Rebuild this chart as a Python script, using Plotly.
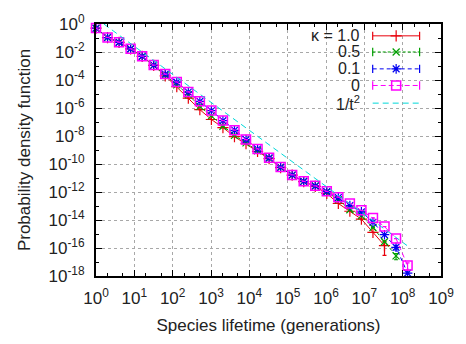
import plotly.graph_objects as go

# ---------------- data ----------------
# bin centres: t = 2^k, k = 0..27
lifetime = [2 ** k for k in range(28)]

pdf_k0 = [0.51, 0.11, 0.050, 0.017, 5.0e-3, 1.17e-3, 2.63e-4, 7.2e-5, 1.41e-5, 3.0e-6,
          6.5e-7, 1.26e-7, 2.6e-8, 5.6e-9, 1.2e-9, 2.8e-10, 6.0e-11, 1.66e-11, 5.8e-12,
          2.75e-12, 1.12e-12, 4.3e-13, 1.51e-13, 4.9e-14, 1.41e-14, 3.4e-15, 4.7e-16, 5.6e-18]
err_k0 = [0] * 27 + [3.0e-18]

pdf_k01 = [0.50, 0.108, 0.049, 0.0168, 4.9e-3, 1.15e-3, 2.6e-4, 7.0e-5, 1.38e-5, 2.95e-6,
           6.4e-7, 1.24e-7, 2.55e-8, 5.5e-9, 1.18e-9, 2.75e-10, 5.9e-11, 1.63e-11, 5.7e-12,
           2.7e-12, 1.08e-12, 4.0e-13, 1.07e-13, 3.8e-14, 6.9e-15, 8.9e-16, 1.12e-16, 1.6e-18]
err_k01 = [0] * 26 + [4.0e-17, 0]

pdf_k05 = [0.50, 0.108, 0.049, 0.0168, 4.9e-3, 1.12e-3, 2.24e-4, 4.5e-5, 8.9e-6, 1.29e-6,
           2.75e-7, 5.0e-8, 1.12e-8, 3.2e-9, 8.9e-10, 2.5e-10, 5.6e-11, 1.6e-11, 5.7e-12,
           2.7e-12, 1.0e-12, 2.8e-13, 5.4e-14, 1.95e-14, 2.9e-15, 2.8e-16, 2.75e-17]
err_k05 = [0] * 26 + [1.3e-17]

pdf_k10 = [0.50, 0.108, 0.049, 0.0166, 4.8e-3, 1.10e-3, 2.0e-4, 3.3e-5, 5.0e-6, 7.6e-7,
           1.51e-7, 4.0e-8, 8.9e-9, 2.8e-9, 7.9e-10, 2.4e-10, 5.5e-11, 1.58e-11, 5.6e-12,
           2.5e-12, 7.9e-13, 1.51e-13, 4.2e-14, 1.15e-14, 1.32e-15, 1.5e-16]
err_k10 = [0] * 25 + [1.2e-16]

# reference power law 1/t^2 (two end points)
ref_t = [1.6, 1.3e8]
ref_p = [1.0, 1.5e-16]

x_tickvals = [10 ** i for i in range(10)]
x_ticktext = [f"10<sup>{i}</sup>" for i in range(10)]
x_minor = [m * 10 ** i for i in range(9) for m in (2, 5)]
y_tickvals = [10.0 ** (-i) for i in range(0, 19, 2)]
y_ticktext = [f"10<sup>{'-' if i else ''}{i}</sup>" for i in range(0, 19, 2)]
y_minor = [10.0 ** (-i) for i in range(1, 18, 2)]

legend_labels = ["κ = 1.0", "0.5", "0.1", "0", "1/t<sup>2</sup>"]

# ---------------- style ----------------
FONT = "Liberation Sans, Arial, Helvetica, sans-serif"
FS = 17
TXT = "#222"
series = [
    dict(y=pdf_k10, e=err_k10, color="#e8000b", dash="solid", sym="cross-thin-open", size=8),
    dict(y=pdf_k05, e=err_k05, color="#00a000", dash="3px,2px", sym="x-thin-open", size=7),
    dict(y=pdf_k01, e=err_k01, color="#0000f0", dash="4px,3px", sym="asterisk-open", size=8),
    dict(y=pdf_k0, e=err_k0, color="#ff00ff", dash="5px,3px", sym="square-open", size=9),
]
CYAN = "#00d8d8"


def mline(s):
    return dict(color=s["color"], width=1.5 if s["sym"] == "square-open" else 1.2)


fig = go.Figure()
for s in series:
    n = len(s["y"])
    fig.add_trace(go.Scatter(
        x=lifetime[:n], y=s["y"], mode="lines+markers",
        line=dict(color=s["color"], width=1, dash=s["dash"]),
        marker=dict(symbol=s["sym"], size=s["size"], color=s["color"], line=mline(s)),
        error_y=dict(type="data", array=s["e"], visible=True, color=s["color"],
                     thickness=1.2, width=2),
        cliponaxis=False, showlegend=False))

fig.add_trace(go.Scatter(x=ref_t, y=ref_p, mode="lines",
                         line=dict(color=CYAN, width=1, dash="6px,4px"),
                         showlegend=False))

# ---------------- hand-made key (symbol to the right of the text) ----------------
key_y = [0.953, 0.889, 0.822, 0.756, 0.686]
kx0, kx1, kxm = 0.802, 0.938, 0.870
for i, s in enumerate(series):
    fig.add_trace(go.Scatter(
        x=[kx0, kx1], y=[key_y[i], key_y[i]], xaxis="x2", yaxis="y2", mode="lines+markers",
        line=dict(color=s["color"], width=1, dash=s["dash"]),
        marker=dict(symbol="line-ns-open", size=6, line=dict(color=s["color"], width=1.2)),
        showlegend=False, hoverinfo="skip"))
    fig.add_trace(go.Scatter(
        x=[kxm], y=[key_y[i]], xaxis="x2", yaxis="y2", mode="markers",
        marker=dict(symbol=s["sym"], size=s["size"], color=s["color"], line=mline(s)),
        showlegend=False, hoverinfo="skip"))
fig.add_trace(go.Scatter(
    x=[kx0, kx1], y=[key_y[4], key_y[4]], xaxis="x2", yaxis="y2", mode="lines",
    line=dict(color=CYAN, width=1, dash="6px,4px"), showlegend=False, hoverinfo="skip"))

for i, lab in enumerate(legend_labels):
    fig.add_annotation(x=0.772, y=key_y[i], xref="paper", yref="paper", text=lab,
                       showarrow=False, xanchor="right", yanchor="middle",
                       font=dict(family=FONT, size=16, color=TXT))

axis_common = dict(showline=True, linewidth=2, linecolor="black", mirror="ticks",
                   ticks="inside", ticklen=6, tickwidth=1, tickcolor="black",
                   showgrid=True, gridcolor="#a8a8a8", griddash="dot", gridwidth=1,
                   zeroline=False, tickfont=dict(family=FONT, size=FS, color=TXT))

fig.update_layout(
    width=466, height=344,
    margin=dict(l=96, r=17, t=15, b=61),
    paper_bgcolor="white", plot_bgcolor="white",
    font=dict(family=FONT, size=FS, color=TXT),
    xaxis=dict(type="log", range=[0, 9], tickmode="array", tickvals=x_tickvals,
               ticktext=x_ticktext,
               minor=dict(tickmode="array", tickvals=x_minor, ticklen=3, ticks="inside",
                          tickcolor="black", showgrid=False),
               title=dict(text="Species lifetime (generations)",
                          font=dict(family=FONT, size=FS, color=TXT), standoff=12),
               ticklabelstandoff=6, **axis_common),
    yaxis=dict(type="log", range=[-18, 0], tickmode="array", tickvals=y_tickvals,
               ticktext=y_ticktext,
               minor=dict(tickmode="array", tickvals=y_minor, ticklen=3, ticks="inside",
                          tickcolor="black", showgrid=False),
               title=dict(text="Probability density function",
                          font=dict(family=FONT, size=FS, color=TXT), standoff=14),
               ticklabelstandoff=6, **axis_common),
    xaxis2=dict(overlaying="x", range=[0, 1], visible=False, anchor="y2"),
    yaxis2=dict(overlaying="y", range=[0, 1], visible=False, anchor="x2"),
)

fig.write_html("out.html")
